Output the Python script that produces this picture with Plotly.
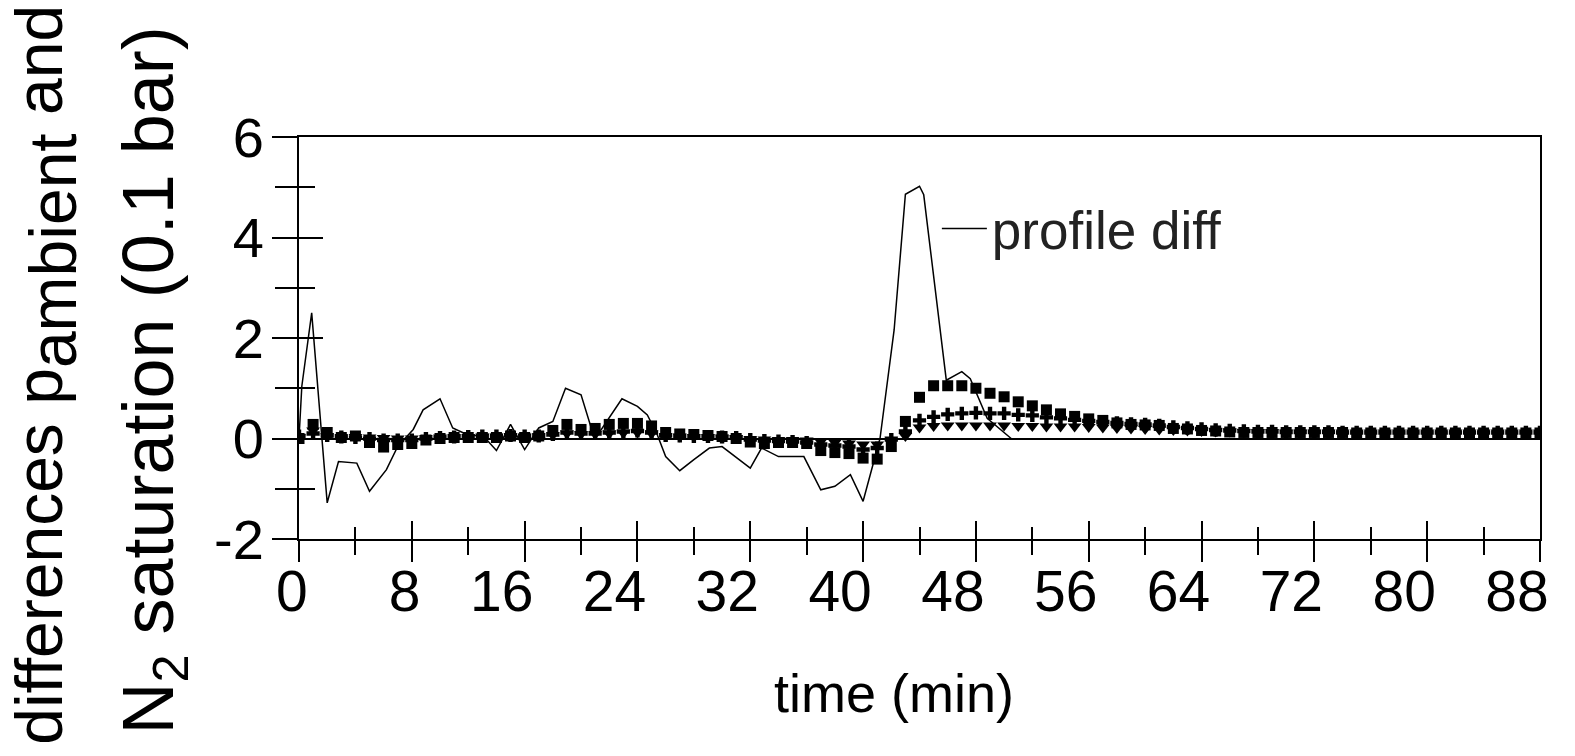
import plotly.graph_objects as go

# ---- data ----
minutes = list(range(0, 89))

profile_t = [0, 0.2, 0.9, 2.0, 2.8, 4.1, 5.0, 6.2, 7.0, 8.1, 8.8, 10.0, 10.9, 11.9, 13.1,
             14.0, 15.0, 16.0, 17.0, 18.0, 18.9, 20.0, 20.8, 21.2, 22.9, 24.0, 24.7, 25.4,
             26.0, 27.0, 28.0, 29.1, 30.0, 31.0, 32.0, 32.8, 34.0, 35.8, 37.0, 38.0, 39.1,
             40.0, 41.2, 42.2, 43.0, 44.0, 44.3, 45.9, 47.0, 47.6, 48.8, 50.5]
profile_diff = [0, 1.04, 2.5, -1.28, -0.46, -0.49, -1.05, -0.62, -0.16, 0.18, 0.57, 0.79, 0.21,
                0.08, 0.04, -0.24, 0.28, -0.22, 0.21, 0.34, 1.0, 0.87, 0.14, 0.08, 0.79, 0.64,
                0.47, 0.08, -0.36, -0.64, -0.42, -0.19, -0.16, -0.38, -0.59, -0.19, -0.36, -0.36,
                -1.02, -0.95, -0.72, -1.25, 0.0, 2.16, 4.86, 5.02, 4.85, 1.16, 1.33, 1.19, 0.4, 0.0]

series_square = [0.0, 0.28, 0.12, 0.02, 0.05, -0.08, -0.17, -0.12, -0.1, -0.03,
                 0.0, 0.02, 0.02, 0.02, 0.02, 0.05, 0.02, 0.05, 0.16, 0.28,
                 0.18, 0.2, 0.28, 0.3, 0.3, 0.25, 0.12, 0.09, 0.08, 0.06,
                 0.04, 0.0, -0.07, -0.1, -0.08, -0.08, -0.1, -0.24, -0.28, -0.3,
                 -0.39, -0.41, -0.16, 0.34, 0.82, 1.05, 1.05, 1.05, 1.0, 0.9,
                 0.83, 0.73, 0.65, 0.57, 0.49, 0.44, 0.39, 0.36, 0.31, 0.28,
                 0.27, 0.26, 0.2, 0.19, 0.16, 0.15, 0.13, 0.12, 0.12, 0.12,
                 0.12, 0.12, 0.12, 0.12, 0.12, 0.11, 0.11, 0.11, 0.11, 0.11,
                 0.11, 0.11, 0.11, 0.11, 0.11, 0.11, 0.11, 0.11, 0.11]
series_cross = [0.05, 0.1, 0.06, 0.03, 0.02, 0.0, -0.03, -0.03, -0.03, 0.0,
                0.02, 0.03, 0.04, 0.05, 0.05, 0.06, 0.05, 0.05, 0.08, 0.12,
                0.1, 0.1, 0.12, 0.14, 0.15, 0.12, 0.06, 0.05, 0.04, 0.04,
                0.03, 0.02, -0.02, -0.04, -0.05, -0.06, -0.08, -0.12, -0.14, -0.16,
                -0.22, -0.19, -0.02, 0.14, 0.36, 0.43, 0.48, 0.5, 0.51, 0.5,
                0.5, 0.47, 0.46, 0.42, 0.4, 0.37, 0.35, 0.33, 0.31, 0.29,
                0.28, 0.26, 0.23, 0.21, 0.19, 0.17, 0.16, 0.15, 0.14, 0.14,
                0.13, 0.13, 0.13, 0.13, 0.12, 0.12, 0.12, 0.12, 0.12, 0.12,
                0.12, 0.12, 0.12, 0.12, 0.12, 0.12, 0.12, 0.12, 0.12]
series_triangle = [0.02, 0.16, 0.05, 0.03, 0.03, 0.02, 0.01, 0.0, 0.0, 0.01,
                   0.02, 0.03, 0.03, 0.04, 0.04, 0.05, 0.04, 0.05, 0.07, 0.1,
                   0.09, 0.09, 0.1, 0.11, 0.12, 0.1, 0.05, 0.04, 0.03, 0.03,
                   0.02, 0.01, -0.01, -0.02, -0.03, -0.03, -0.04, -0.06, -0.08, -0.1,
                   -0.12, -0.12, -0.02, 0.05, 0.22, 0.25, 0.26, 0.26, 0.26, 0.26,
                   0.26, 0.25, 0.25, 0.24, 0.24, 0.24, 0.23, 0.22, 0.21, 0.2,
                   0.19, 0.18, 0.17, 0.16, 0.15, 0.14, 0.14, 0.13, 0.13, 0.13,
                   0.12, 0.12, 0.12, 0.12, 0.12, 0.12, 0.12, 0.12, 0.12, 0.12,
                   0.12, 0.12, 0.12, 0.12, 0.12, 0.12, 0.12, 0.12, 0.12]

x_ticks = list(range(0, 89, 8))
x_tick_text = ["\u00a0\u00a00", "\u00a0\u00a08"] + [str(v) for v in x_ticks[2:]]
y_ticks = [-2, 0, 2, 4, 6]
y_tick_text = ["-2", "0", "2", "4", "6"]

FONT = "Liberation Sans, Arial, sans-serif"

fig = go.Figure()
fig.add_trace(go.Scatter(x=minutes, y=series_square, mode="markers", showlegend=False,
                         marker=dict(symbol="square", size=11, color="black")))
fig.add_trace(go.Scatter(x=minutes, y=series_triangle, mode="markers", showlegend=False,
                         marker=dict(symbol="triangle-down", size=12, color="black")))
fig.add_trace(go.Scatter(x=minutes, y=series_cross, mode="markers", showlegend=False,
                         marker=dict(symbol="cross", size=11, color="black")))
fig.add_trace(go.Scatter(x=profile_t, y=profile_diff, mode="lines", name="profile diff",
                         line=dict(color="black", width=1.5)))
# helper trace so the overlay axes (inner half of crossing ticks) are drawn
fig.add_trace(go.Scatter(x=profile_t, y=profile_diff, mode="lines", xaxis="x2", yaxis="y2",
                         line=dict(width=0), opacity=0, hoverinfo="skip", showlegend=False))

axis_common = dict(showgrid=False, linecolor="black", linewidth=2, tickcolor="black", tickwidth=2)

fig.update_layout(
    width=1575, height=756,
    margin=dict(l=299, r=35, t=137, b=217),
    plot_bgcolor="white", paper_bgcolor="white",
    font=dict(family=FONT, color="black", size=54),
    xaxis=dict(range=[0, 88], tickvals=x_ticks, ticktext=x_tick_text, ticks="outside", ticklen=21,
               minor=dict(dtick=4, tick0=0, ticks="outside", ticklen=14, tickwidth=2, tickcolor="black"),
               showline=True, mirror=True, zeroline=False, tickfont=dict(size=57, family=FONT),
               ticklabelshift=-23, ticklabelstandoff=-19,
               **axis_common),
    yaxis=dict(range=[-2, 6], tickvals=y_ticks, ticktext=y_tick_text, ticks="outside", ticklen=25,
               minor=dict(dtick=1, tick0=0, ticks="outside", ticklen=22, tickwidth=2, tickcolor="black"),
               showline=True, mirror=True, zeroline=True, zerolinecolor="black", zerolinewidth=2,
               tickfont=dict(size=56, family=FONT), ticklabelstandoff=-3,
               **axis_common),
    xaxis2=dict(overlaying="x", matches="x", side="bottom", tickvals=x_ticks, ticks="inside", ticklen=18,
                minor=dict(dtick=4, tick0=0, ticks="inside", ticklen=12, tickwidth=2, tickcolor="black"),
                showticklabels=False, showline=False, zeroline=False, **axis_common),
    yaxis2=dict(overlaying="y", matches="y", side="left", tickvals=y_ticks, ticks="inside", ticklen=24,
                minor=dict(dtick=1, tick0=0, ticks="inside", ticklen=16, tickwidth=2, tickcolor="black"),
                showticklabels=False, showline=False, zeroline=False, **axis_common),
    legend=dict(x=0.514, y=0.7725, xanchor="left", yanchor="middle", bgcolor="rgba(0,0,0,0)",
                font=dict(size=53, family=FONT, color="#222"), itemwidth=45),
    annotations=[
        dict(text="time (min)", xref="paper", yref="paper", x=0.4795, y=-0.383,
             xanchor="center", yanchor="middle", showarrow=False,
             font=dict(size=54, family=FONT, color="black")),
        dict(text="differences p<sub><span style='font-size:66px'>ambient</span></sub> and",
             xref="paper", yref="paper", x=-0.204, y=0.408, xanchor="center", yanchor="middle",
             textangle=-90, showarrow=False, font=dict(size=66, family=FONT, color="black")),
        dict(text="N<sub>2</sub> saturation (0.1 bar)",
             xref="paper", yref="paper", x=-0.118, y=0.393, xanchor="center", yanchor="middle",
             textangle=-90, showarrow=False, font=dict(size=72, family=FONT, color="black")),
    ],
)

fig.write_html("out.html", post_script="document.body.style.margin='0px';",
               config={"displayModeBar": False})
